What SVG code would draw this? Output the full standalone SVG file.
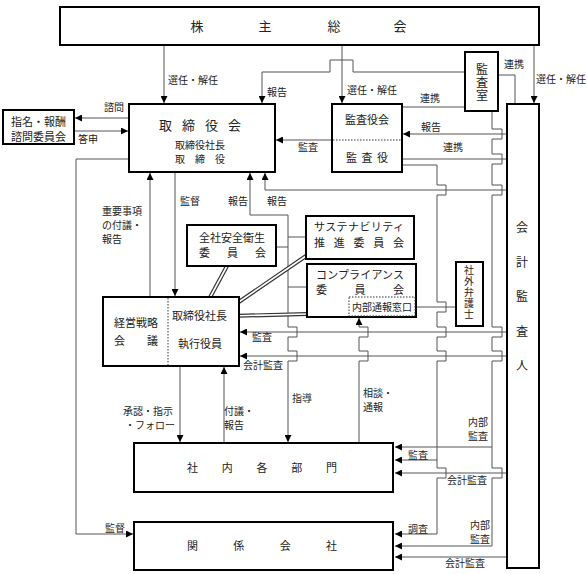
<svg xmlns="http://www.w3.org/2000/svg" width="587" height="574" viewBox="0 0 587 574">
<defs>
<marker id="ar" markerWidth="7" markerHeight="7" refX="7" refY="3.5" orient="auto" markerUnits="userSpaceOnUse"><path d="M0,0 L7,3.5 L0,7 z" fill="#000"/></marker>
<style>
.box{fill:#fff;stroke:#000;stroke-width:2}
.c{fill:none;stroke:#555;stroke-width:1}
.a{marker-end:url(#ar)}
.dl1{stroke:#333;stroke-width:4;fill:none}
.dl2{stroke:#fff;stroke-width:1.6;fill:none}
text{font-family:"Noto Sans CJK JP","Noto Sans",sans-serif;fill:#222}
.l{font-size:10px}
.t{font-size:11px}
.b{font-size:13px}
.m{text-anchor:middle}
.v{writing-mode:vertical-rl;text-anchor:middle}
.dot{fill:none;stroke:#333;stroke-width:1;stroke-dasharray:1.5,1.5}
</style>
</defs>
<rect width="587" height="574" fill="#fff"/>

<g id="connectors">
<path class="c a" d="M164,45 V103"/>
<path class="c a" d="M342,45 V103"/>
<path class="c a" d="M534,45 V103"/>
<path class="c a" d="M465,72 H353 V60 H330 V72 H262 V103"/>
<path class="c" d="M498,75 H515 V104"/>
<path class="c" d="M402,107 H465"/>
<path class="c a" d="M507,134 H403"/>
<path class="c" d="M402,159 H507"/>
<path class="c a" d="M332,140 H276"/>
<path class="c a" d="M129,118 H75"/>
<path class="c a" d="M74,131 H128"/>
<path class="c a" d="M129,159 H76 V534 H133"/>
<path class="c a" d="M507,190 H265 V173"/>
<path class="c a" d="M288,215 H250 V173"/>
<path class="c a" d="M288,215 V327 H297 V337 H288 V351 H297 V361 H288 V442"/>
<path class="c" d="M277,247 H288"/>
<path class="c" d="M288,237 H306"/>
<path class="c" d="M288,287 H307"/>
<path class="c a" d="M402,165 H437 V185 H446 V195 H437 V302 H446 V312 H437 V327 H446 V337 H437 V351 H446 V361 H437 V460 H395"/>
<path class="c a" d="M437,460 V468 H446 V478 H437 V534 H395"/>
<path class="c a" d="M492,111 V129 H502 V139 H492 V154 H502 V164 H492 V185 H502 V195 H492 V327 H502 V337 H492 V351 H502 V361 H492 V447 H395"/>
<path class="c a" d="M492,447 V468 H502 V478 H492 V546 H395"/>
<path class="c a" d="M507,332 H240"/>
<path class="c a" d="M507,356 H240"/>
<path class="c a" d="M507,473 H395"/>
<path class="c a" d="M507,557 H395"/>
<path class="c" d="M456,307 H414"/>
<circle cx="414" cy="307" r="2.2" fill="#000"/>
<path class="c a" d="M359,442 V361 H368 V351 H359 V337 H368 V327 H359 V318"/>
<path class="c a" d="M150,297 V173"/>
<path class="c a" d="M175,172 V296"/>
<path class="c a" d="M180,367 V442"/>
<path class="c a" d="M224,443 V367"/>
<path class="dl1" d="M227,266 L207,303 M306,256 L230,308 M307,314 L230,316"/>
<path class="dl2" d="M227,266 L207,303 M306,256 L230,308 M307,314 L230,316"/>
</g>

<g id="shareholders">
<rect class="box" x="60" y="7" width="479" height="38"/>
<text class="b m" x="197" y="31">株</text>
<text class="b m" x="265" y="31">主</text>
<text class="b m" x="334" y="31">総</text>
<text class="b m" x="400" y="31">会</text>
</g>

<g id="nomination">
<rect class="box" x="3" y="110" width="71" height="34"/>
<text class="t" x="11" y="126">指名・報酬</text>
<text class="t" x="11" y="141">諮問委員会</text>
</g>

<g id="board">
<rect class="box" x="129" y="104" width="146" height="68"/>
<text class="b" x="159" y="130" textLength="82" lengthAdjust="spacing">取締役会</text>
<text style="font-size:10px" x="175" y="149">取締役社長</text>
<text style="font-size:10px" x="175" y="163" textLength="50" lengthAdjust="spacing">取締役</text>
</g>

<g id="auditboard">
<rect class="box" x="332" y="104" width="70" height="68"/>
<line x1="333" y1="140" x2="401" y2="140" class="dot"/>
<text class="t m" x="367" y="124">監査役会</text>
<text class="t" x="346" y="162" textLength="42" lengthAdjust="spacing">監査役</text>
</g>

<g id="auditoffice">
<rect class="box" x="465" y="52" width="33" height="59"/>
<text class="v" x="482" y="82.5" style="font-size:12px;letter-spacing:1px">監査室</text>
</g>

<g id="accountingauditor">
<rect class="box" x="507" y="104" width="32" height="464"/>
<text class="v" x="522" y="308" style="font-size:12px;letter-spacing:22.5px">会計監査人</text>
</g>

<g id="safety">
<rect class="box" x="187" y="225" width="89" height="41"/>
<text class="t m" x="232" y="242">全社安全衛生</text>
<text class="t" x="199" y="257" textLength="67" lengthAdjust="spacing">委員会</text>
</g>

<g id="sustainability">
<rect class="box" x="306" y="216" width="108" height="43"/>
<text class="t" x="314" y="231" textLength="90" lengthAdjust="spacing">サステナビリティ</text>
<text class="t" x="314" y="247" textLength="90" lengthAdjust="spacing">推進委員会</text>
</g>

<g id="compliance">
<rect class="box" x="307" y="264" width="109" height="53"/>
<text class="t" x="316" y="279" textLength="88" lengthAdjust="spacing">コンプライアンス</text>
<text class="t" x="316" y="294" textLength="88" lengthAdjust="spacing">委員会</text>
<rect class="dot" x="349" y="297" width="66" height="19"/>
<text style="font-size:10px" x="352" y="311">内部通報窓口</text>
</g>

<g id="lawyer">
<rect class="box" x="456" y="262" width="27" height="64"/>
<text class="v" x="469" y="292.5" style="font-size:10px;letter-spacing:1px">社外弁護士</text>
</g>

<g id="executive">
<rect class="box" x="103" y="297" width="136" height="69"/>
<line x1="168" y1="298" x2="168" y2="365" class="dot"/>
<text class="t" x="114" y="327">経営戦略</text>
<text class="t" x="114" y="345" textLength="44" lengthAdjust="spacing">会議</text>
<text class="t" x="172" y="320">取締役社長</text>
<text class="t" x="178" y="348">執行役員</text>
</g>

<g id="departments">
<rect class="box" x="134" y="443" width="259" height="49"/>
<text class="t" x="187" y="472" textLength="150" lengthAdjust="spacing">社内各部門</text>
</g>

<g id="affiliates">
<rect class="box" x="134" y="522" width="259" height="48"/>
<text class="t" x="187" y="550" textLength="150" lengthAdjust="spacing">関係会社</text>
</g>

<g id="labels">
<text class="l" x="168" y="84">選任・解任</text>
<text class="l" x="267" y="96">報告</text>
<text class="l" x="104" y="111">諮問</text>
<text class="l" x="78" y="143">答申</text>
<text class="l" x="347" y="94">選任・解任</text>
<text class="l" x="504" y="68">連携</text>
<text class="l" x="536" y="83">選任・解任</text>
<text class="l" x="420" y="102">連携</text>
<text class="l" x="421" y="131">報告</text>
<text class="l" x="443" y="151">連携</text>
<text class="l" x="298" y="151">監査</text>
<text class="l" x="102" y="215">重要事項</text>
<text class="l" x="102" y="229">の付議・</text>
<text class="l" x="102" y="243">報告</text>
<text class="l" x="180" y="205">監督</text>
<text class="l" x="228" y="205">報告</text>
<text class="l" x="267" y="205">報告</text>
<text class="l" x="252" y="341">監査</text>
<text class="l" x="243" y="369">会計監査</text>
<text class="l" x="123" y="415">承認・指示</text>
<text class="l" x="125" y="429">・フォロー</text>
<text class="l" x="224" y="415">付議・</text>
<text class="l" x="224" y="429">報告</text>
<text class="l" x="292" y="402">指導</text>
<text class="l" x="363" y="397">相談・</text>
<text class="l" x="363" y="411">通報</text>
<text class="l" x="468" y="426">内部</text>
<text class="l" x="468" y="440">監査</text>
<text class="l" x="408" y="459">監査</text>
<text class="l" x="447" y="484">会計監査</text>
<text class="l" x="408" y="533">調査</text>
<text class="l" x="470" y="529">内部</text>
<text class="l" x="470" y="543">監査</text>
<text class="l" x="445" y="567">会計監査</text>
<text class="l" x="105" y="532">監督</text>
</g>
</svg>
